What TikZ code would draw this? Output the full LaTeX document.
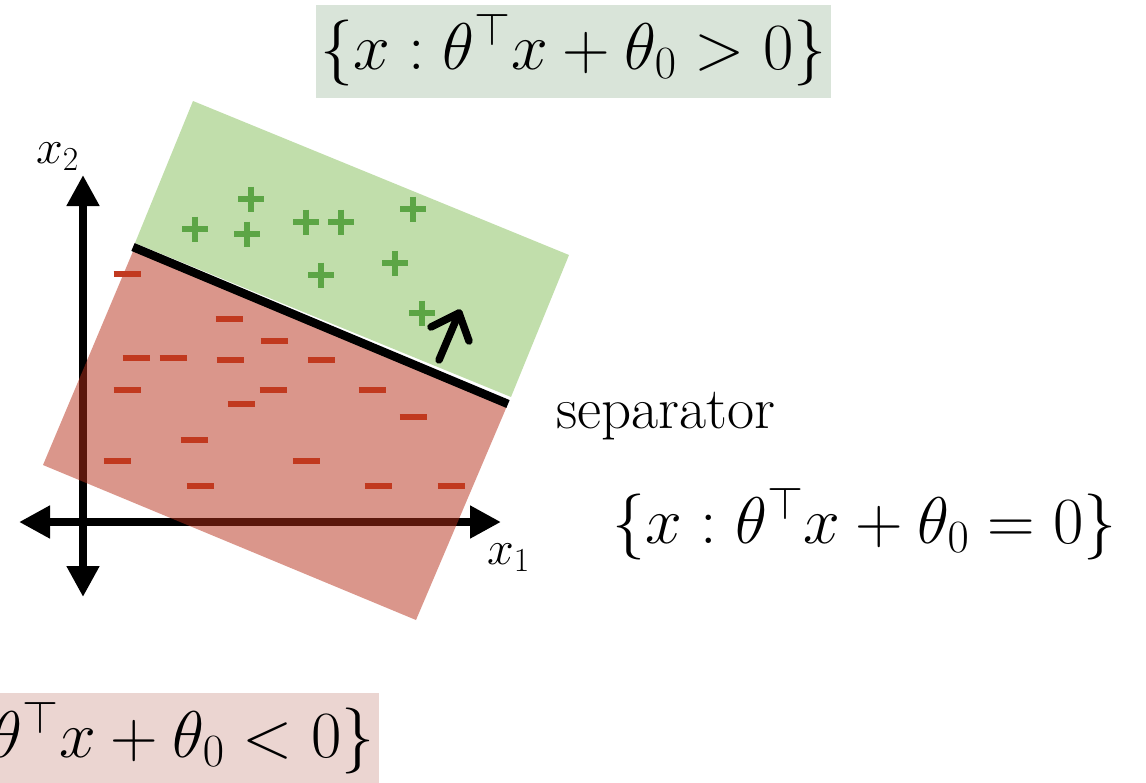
\documentclass[tikz,border=0pt]{standalone}
\usepackage{fix-cm}
\usetikzlibrary{arrows.meta}
\definecolor{greenreg}{HTML}{C1DEAB}
\definecolor{redreg}{RGB}{182,46,24}
\definecolor{plusc}{HTML}{5CA545}
\definecolor{minusc}{HTML}{C1391F}
\definecolor{topbox}{HTML}{D9E4D9}
\definecolor{botbox}{HTML}{EBD5D1}
\tikzset{
  axis2/.style={line width=8pt,{Triangle[length=31pt,width=31pt]}-{Triangle[length=31pt,width=31pt]}},
  plusmark/.style={line width=6.5pt,plusc},
  minusmark/.style={line width=5.5pt,minusc},
  bigmath/.style={inner sep=0pt,font=\fontsize{66}{72}\selectfont},
  axlabel/.style={inner sep=0pt,font=\fontsize{48}{54}\selectfont},
  setbox/.style={bigmath,inner xsep=4pt,text height=64pt,text depth=29pt},
}
\begin{document}
\begin{tikzpicture}[x=1pt,y=-1pt]
\useasboundingbox (0,0) rectangle (1146,782);
\clip (0,0) rectangle (1146,782);
% positive half-plane
\fill[greenreg] (135,243) -- (511,397) -- (569,255) -- (193,101) -- cycle;
% axes
\coordinate (ybot) at (83,597);
\coordinate (ytop) at (83,175);
\coordinate (xleft) at (19,522);
\coordinate (xright) at (501,522);
\draw[axis2] (ybot) -- (ytop);
\draw[axis2] (xleft) -- (xright);
% negative half-plane
\fill[redreg,opacity=0.5] (134,249) -- (507,406) -- (416,620) -- (43,465) -- cycle;
% separator
\coordinate (sepA) at (133,247);
\coordinate (sepB) at (508,404);
\draw[line width=8.5pt] (sepA) -- (sepB);
% minus points
\foreach \x/\y in {127/274,229/319,274/341,136/358,173/358,230/360,321/360,127/390,273/390,372/390,241/404,413/417,194/440,117/461,306/461,200/486,378/486,451/486}
  \draw[minusmark] (\x-13.5,\y) -- (\x+13.5,\y);
% plus points
\foreach \x/\y in {195/229,251/199,247/234,306/222,341/222,413/209,321/275,395/263,422/313}
  \draw[plusmark] (\x-13,\y) -- (\x+13,\y) (\x,\y-12.5) -- (\x,\y+12.5);
% normal vector
\coordinate (nbase) at (439,360);
\coordinate (ntip) at (459,313);
\coordinate (nl) at (431,327);
\coordinate (nr) at (469,341);
\draw[line width=7.5pt,line cap=round,line join=round] (nbase) -- (ntip);
\draw[line width=7.5pt,line cap=round,line join=round] (nl) -- (ntip) -- (nr);
% labels
\node[axlabel,anchor=base west] (lx2) at (36,163) {$x_2$};
\node[axlabel,anchor=base west] (lx1) at (487,564) {$x_1$};
\node[inner sep=0pt,anchor=base west,font=\fontsize{59}{64}\selectfont] (lsep) at (556,428) {separator};
\node[bigmath,anchor=base east] (lzero) at (1117,543) {$\{x : \theta^\top x + \theta_0 = 0\}$};
\node[setbox,fill=topbox,anchor=base east] (lpos) at (831,69) {$\{x : \theta^\top x + \theta_0 > 0\}$};
\node[setbox,fill=botbox,anchor=base east] (lneg) at (379,757) {$\{x : \theta^\top x + \theta_0 < 0\}$};
\end{tikzpicture}
\end{document}
